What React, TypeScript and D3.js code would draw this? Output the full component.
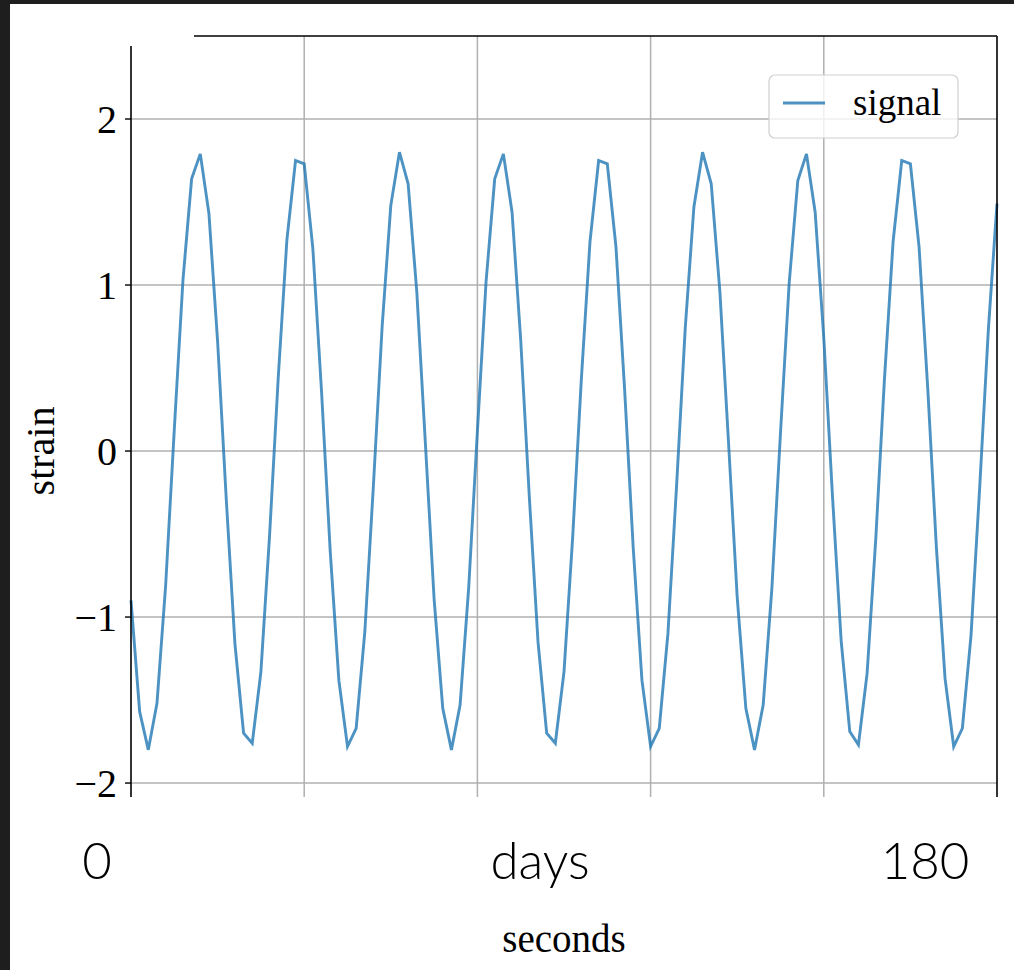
import React from "react";
import * as d3 from "d3";

const signal: number[] = [
  -0.9, -1.57, -1.8, -1.52, -0.81, 0.13, 1.03, 1.64, 1.79, 1.43,
  0.66, -0.29, -1.16, -1.7, -1.76, -1.33, -0.51, 0.44, 1.27, 1.75,
  1.73, 1.22, 0.36, -0.6, -1.38, -1.78, -1.67, -1.09, -0.2, 0.75,
  1.48, 1.8, 1.61, 0.96, 0.04, -0.89, -1.55, -1.8, -1.53, -0.82,
  0.12, 1.02, 1.64, 1.79, 1.44, 0.67, -0.28, -1.15, -1.7, -1.76,
  -1.33, -0.52, 0.43, 1.26, 1.75, 1.73, 1.23, 0.37, -0.59, -1.38,
  -1.78, -1.67, -1.1, -0.21, 0.74, 1.47, 1.8, 1.61, 0.96, 0.05,
  -0.88, -1.55, -1.8, -1.53, -0.83, 0.11, 1.01, 1.63, 1.79, 1.44,
  0.68, -0.27, -1.14, -1.69, -1.77, -1.34, -0.53, 0.43, 1.26, 1.75,
  1.73, 1.23, 0.38, -0.58, -1.37, -1.78, -1.67, -1.11, -0.22, 0.73,
  1.49,
];
const yTicks: number[] = [-2, -1, 0, 1, 2];
const xGrid: number[] = [0, 20, 40, 60, 80, 100];
const bottomLabels: string[] = ["0", "days", "180"];
const legendLabel = "signal";
const xLabel = "seconds";
const yLabel = "strain";

const W = 1014;
const H = 970;
const left = 131;
const right = 997;
const top = 36;
const bottom = 797;

export default function App() {
  const x = d3.scaleLinear().domain([0, signal.length - 1]).range([left, right]);
  const y = d3.scaleLinear().domain([-2.084, 2.5]).range([bottom, top]);
  const line = d3
    .line<number>()
    .x((_, i) => x(i))
    .y((d) => y(d));
  const serif = "'Liberation Serif', 'Times New Roman', serif";
  const sans = "Lato, 'Open Sans', sans-serif";
  const labelX = [97, 540, 925];
  return (
    <svg
      width={W}
      height={H}
      style={{ position: "absolute", left: 0, top: 0, background: "#fff" }}
    >
      <rect x={0} y={0} width={W} height={H} fill="#fff" />
      {xGrid.slice(1, -1).map((t) => (
        <line key={"gx" + t} x1={x(t)} x2={x(t)} y1={top} y2={bottom} stroke="#b0b0b0" strokeWidth={1.5} />
      ))}
      {yTicks.map((t) => (
        <line key={"gy" + t} x1={left} x2={right} y1={y(t)} y2={y(t)} stroke="#b0b0b0" strokeWidth={1.5} />
      ))}
      <path d={line(signal) || ""} fill="none" stroke="#1f77b4" strokeOpacity={0.8} strokeWidth={2.9} strokeLinejoin="miter" />
      <line x1={left} x2={left} y1={46} y2={bottom} stroke="#000" strokeWidth={1.6} />
      <line x1={194} x2={right} y1={top} y2={top} stroke="#000" strokeWidth={1.6} />
      <line x1={right} x2={right} y1={top} y2={bottom} stroke="#000" strokeWidth={1.6} />
      {yTicks.map((t) => (
        <g key={"yt" + t}>
          <line x1={left - 6} x2={left} y1={y(t)} y2={y(t)} stroke="#000" strokeWidth={1.4} />
          <text x={left - 14} y={y(t)} dy="0.35em" textAnchor="end" fontFamily={serif} fontSize={40} fill="#000">
            {t < 0 ? "\u2212" + Math.abs(t) : String(t)}
          </text>
        </g>
      ))}
      <g>
        <rect x={769} y={75} width={189} height={63} rx={6} ry={6} fill="#fff" fillOpacity={0.8} stroke="#d0d0d0" strokeWidth={1.2} />
        <line x1={783} x2={825} y1={103} y2={103} stroke="#1f77b4" strokeOpacity={0.8} strokeWidth={2.9} />
        <text x={853} y={115} fontFamily={serif} fontSize={37} fill="#000">
          {legendLabel}
        </text>
      </g>
      {bottomLabels.map((s, i) => (
        <text key={s} x={labelX[i]} y={879} textAnchor="middle" fontFamily={sans} fontWeight={300} fontSize={51} fill="#000">
          {s}
        </text>
      ))}
      <text x={564} y={952} textAnchor="middle" fontFamily={serif} fontSize={39} fill="#000">
        {xLabel}
      </text>
      <text
        transform={`translate(54,451) rotate(-90)`}
        textAnchor="middle"
        fontFamily={serif}
        fontSize={40}
        fill="#000"
      >
        {yLabel}
      </text>
      <rect x={0} y={0} width={W} height={4} fill="#1e1e1e" />
      <rect x={0} y={0} width={10} height={H} fill="#1e1e1e" />
    </svg>
  );
}
